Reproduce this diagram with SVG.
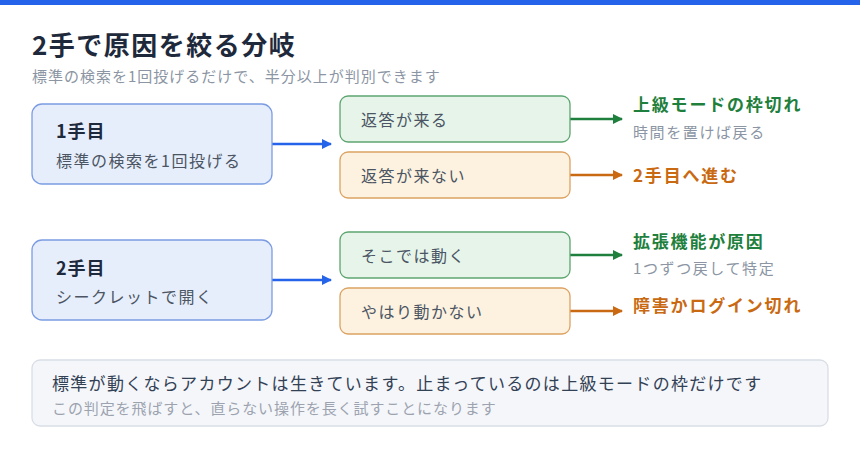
<svg xmlns="http://www.w3.org/2000/svg" width="860" height="470" viewBox="0 0 860 470">
<defs>
<style>
text{font-family:"Noto Sans CJK JP","Noto Sans",sans-serif}
.title{font-size:26px;font-weight:700;fill:#1e293b;letter-spacing:1.5px}
.sub{font-size:15px;fill:#8b95a3;letter-spacing:1px}
.step{fill:#e7eefb;stroke:#7b9ce3;stroke-width:1.3}
.stepT{font-size:18px;font-weight:700;fill:#1e293b;letter-spacing:1px}
.stepS{font-size:16px;fill:#4b5563;letter-spacing:1.5px}
.gbox{fill:#e6f4ea;stroke:#5da56f;stroke-width:1.3}
.obox{fill:#fdf2e0;stroke:#dca261;stroke-width:1.3}
.opt{font-size:16px;fill:#4b5563;letter-spacing:1.5px}
.gres{font-size:17px;font-weight:700;fill:#1f7f3d;letter-spacing:1.8px}
.ores{font-size:17px;font-weight:700;fill:#c96a12;letter-spacing:1.8px}
.note{font-size:15px;fill:#8b95a3;letter-spacing:1.6px}
.lb{stroke:#2563eb;stroke-width:2.5;fill:none}
.lg{stroke:#1f7f3d;stroke-width:2.5;fill:none}
.lo{stroke:#c96a12;stroke-width:2.5;fill:none}
</style>
<marker id="ab" markerWidth="10" markerHeight="10" refX="9" refY="5" orient="auto" markerUnits="userSpaceOnUse"><path d="M0,0 L10,5 L0,10 z" fill="#2563eb"/></marker>
<marker id="ag" markerWidth="10" markerHeight="10" refX="9" refY="5" orient="auto" markerUnits="userSpaceOnUse"><path d="M0,0 L10,5 L0,10 z" fill="#1f7f3d"/></marker>
<marker id="ao" markerWidth="10" markerHeight="10" refX="9" refY="5" orient="auto" markerUnits="userSpaceOnUse"><path d="M0,0 L10,5 L0,10 z" fill="#c96a12"/></marker>
</defs>
<rect x="0" y="0" width="860" height="470" fill="#ffffff"/>
<rect x="0" y="0" width="860" height="5" fill="#2563eb"/>
<text class="title" x="32" y="55">2手で原因を絞る分岐</text>
<text class="sub" x="32" y="82">標準の検索を1回投げるだけで、半分以上が判別できます</text>

<g id="connectors">
<line class="lb" x1="272" y1="144" x2="331" y2="144" marker-end="url(#ab)"/>
<line class="lg" x1="570" y1="119" x2="622" y2="119" marker-end="url(#ag)"/>
<line class="lo" x1="570" y1="175" x2="622" y2="175" marker-end="url(#ao)"/>
<line class="lb" x1="272" y1="280" x2="331" y2="280" marker-end="url(#ab)"/>
<line class="lg" x1="570" y1="255" x2="622" y2="255" marker-end="url(#ag)"/>
<line class="lo" x1="570" y1="311" x2="622" y2="311" marker-end="url(#ao)"/>
</g>

<g id="step1">
<rect class="step" x="32" y="104" width="240" height="80" rx="10"/>
<text class="stepT" x="56" y="138">1手目</text>
<text class="stepS" x="56" y="167">標準の検索を1回投げる</text>
</g>
<g id="opt1a">
<rect class="gbox" x="340" y="96" width="230" height="46" rx="8"/>
<text class="opt" x="361" y="126">返答が来る</text>
</g>
<g id="opt1b">
<rect class="obox" x="340" y="152" width="230" height="46" rx="8"/>
<text class="opt" x="361" y="182">返答が来ない</text>
</g>
<g id="res1a">
<text class="gres" x="633" y="111">上級モードの枠切れ</text>
<text class="note" x="633" y="138">時間を置けば戻る</text>
</g>
<g id="res1b">
<text class="ores" x="633" y="182">2手目へ進む</text>
</g>

<g id="step2">
<rect class="step" x="32" y="240" width="240" height="80" rx="10"/>
<text class="stepT" x="56" y="275">2手目</text>
<text class="stepS" x="56" y="303">シークレットで開く</text>
</g>
<g id="opt2a">
<rect class="gbox" x="340" y="232" width="230" height="46" rx="8"/>
<text class="opt" x="361" y="262">そこでは動く</text>
</g>
<g id="opt2b">
<rect class="obox" x="340" y="288" width="230" height="46" rx="8"/>
<text class="opt" x="361" y="318">やはり動かない</text>
</g>
<g id="res2a">
<text class="gres" x="633" y="248">拡張機能が原因</text>
<text class="note" x="633" y="274">1つずつ戻して特定</text>
</g>
<g id="res2b">
<text class="ores" x="633" y="312">障害かログイン切れ</text>
</g>

<g id="summary">
<rect x="32" y="360" width="796" height="66" rx="8" fill="#f4f6fa" stroke="#d9dee6" stroke-width="1.3"/>
<text x="52" y="390" font-size="17" fill="#334155" letter-spacing="1.3">標準が動くならアカウントは生きています。止まっているのは上級モードの枠だけです</text>
<text x="52" y="414" font-size="15" fill="#9ca3af" letter-spacing="0.9">この判定を飛ばすと、直らない操作を長く試すことになります</text>
</g>
</svg>
